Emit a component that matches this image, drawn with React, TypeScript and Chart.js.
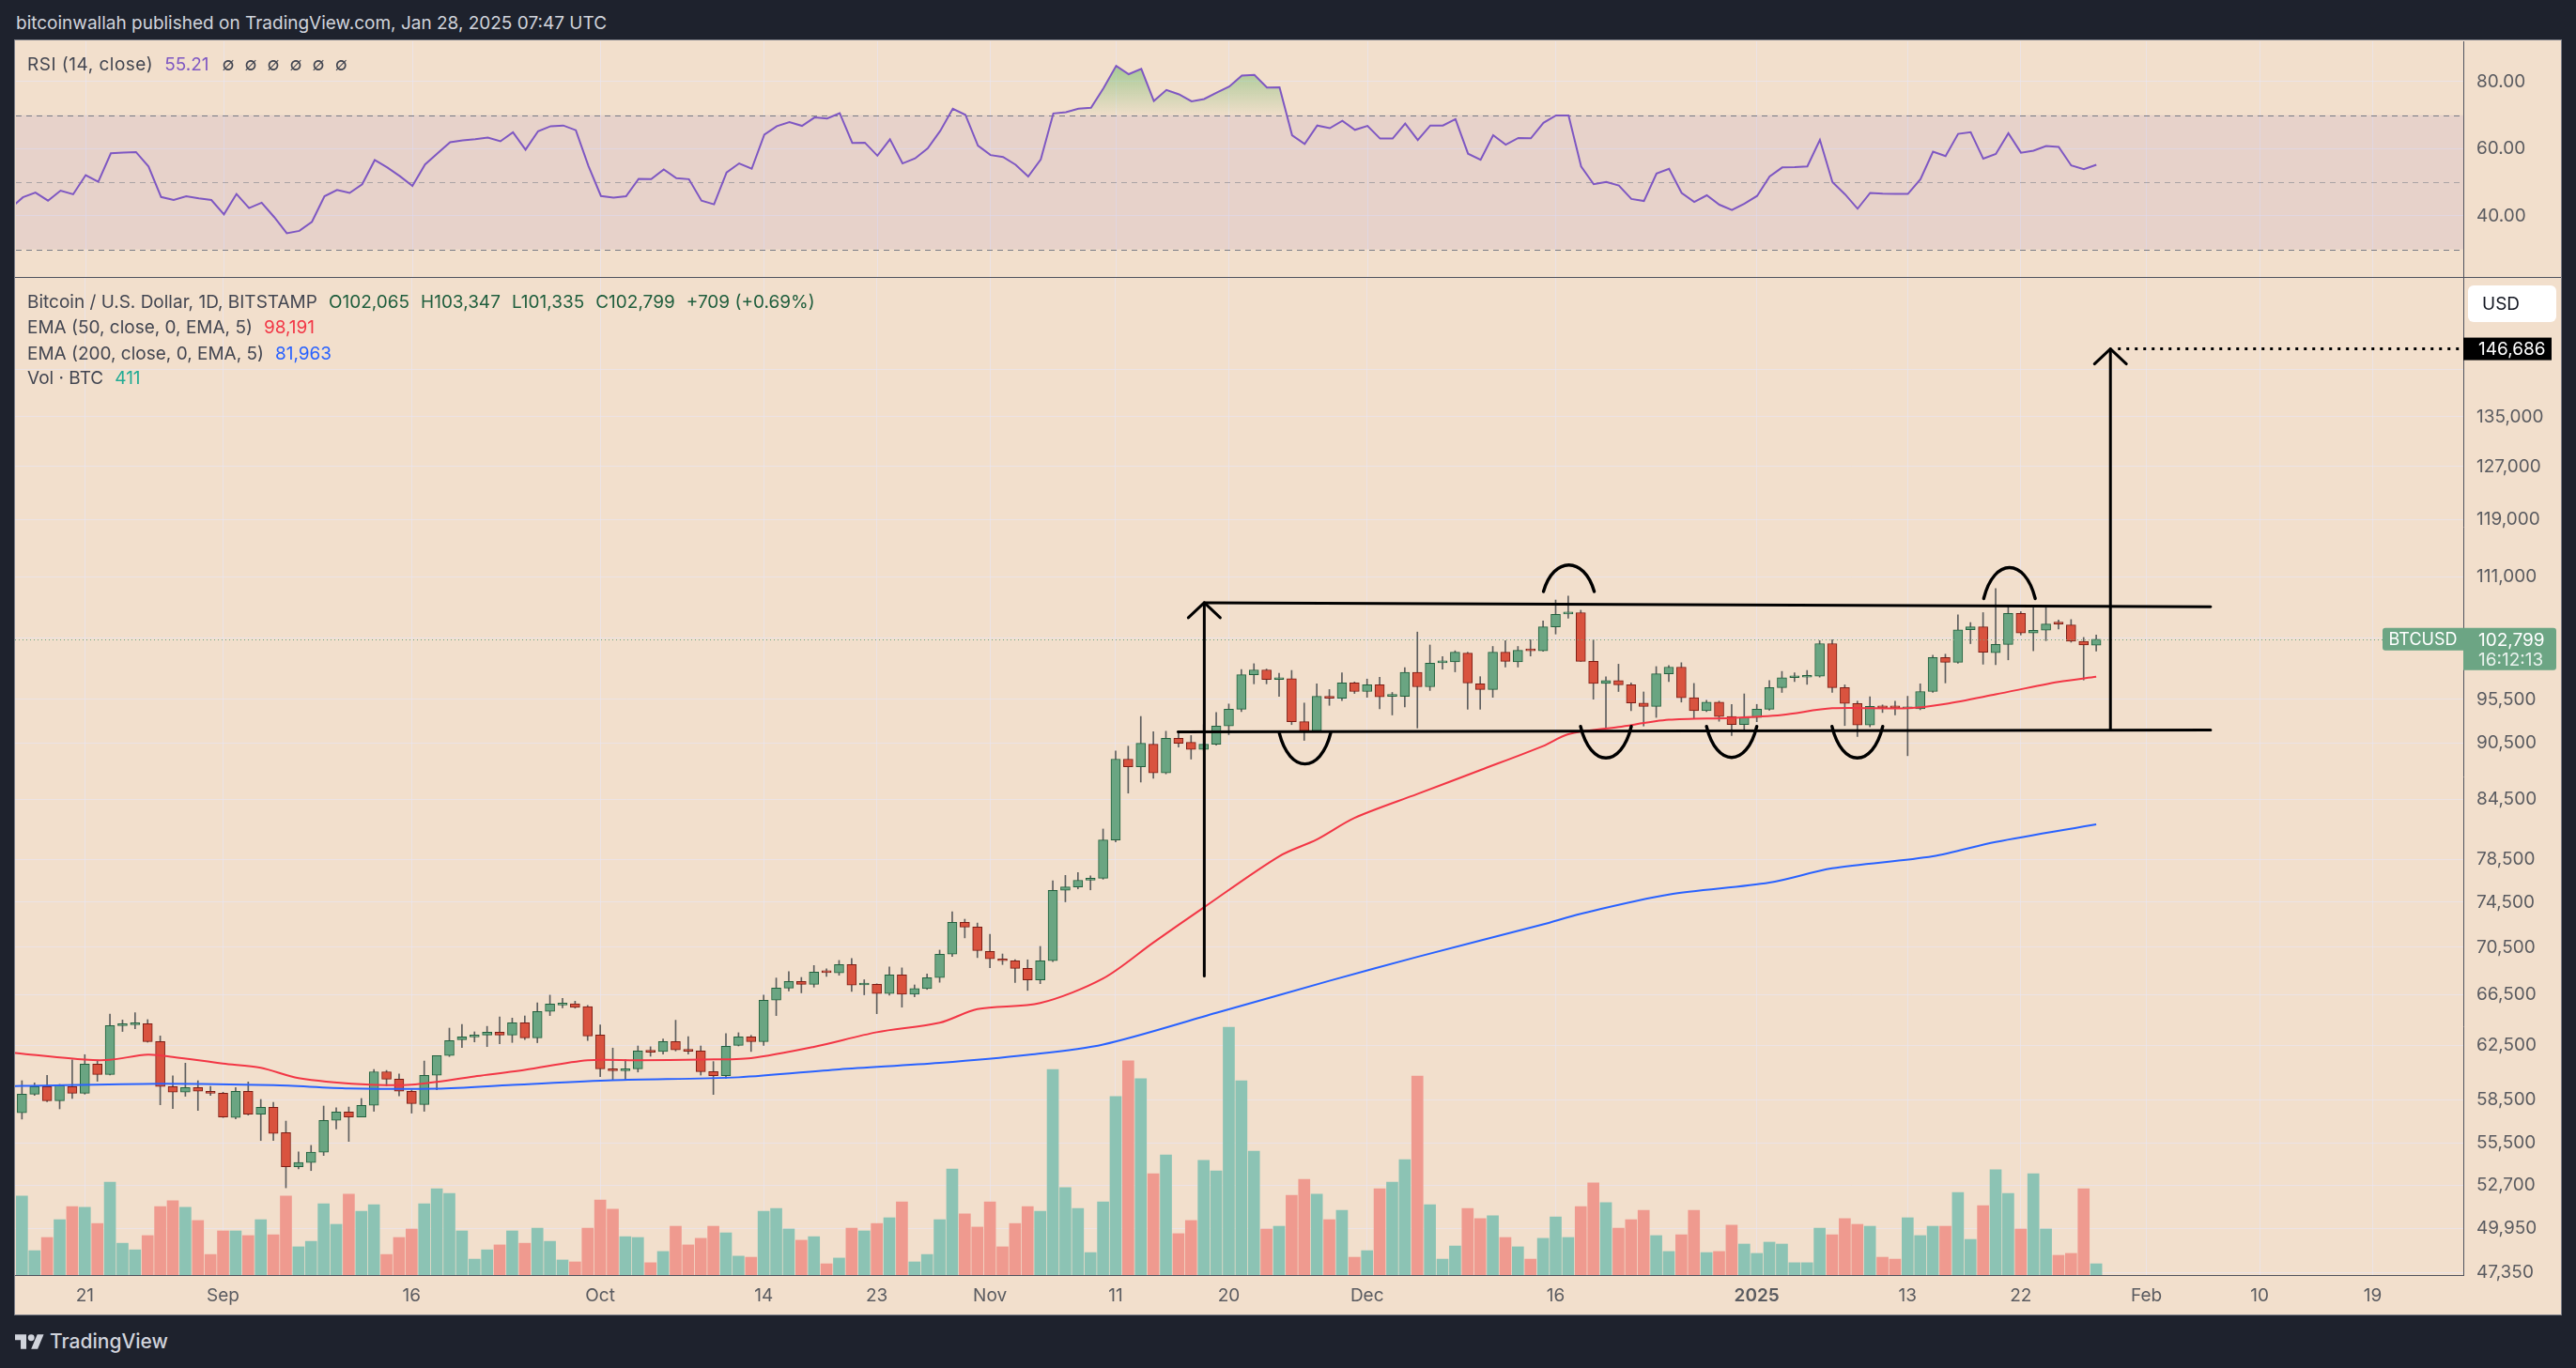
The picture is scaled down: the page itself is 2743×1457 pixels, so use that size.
import React, { useEffect, useRef } from 'react';
import { Chart, registerables } from 'chart.js';

Chart.register(...registerables);

const FONT = 'Inter, "Noto Sans", "DejaVu Sans", sans-serif';

// ---- Data (day index = days since 2024-09-01) ----
const firstCandleDay = -16; // 2024-08-16

const candleOpen = [
  57570, 58900, 59450, 58430, 59450, 58970, 61110, 60340, 64060, 64130,
  64200, 62820, 59450, 59040, 59380, 59110, 58970, 57240, 59110, 57480,
  57960, 56190, 53890, 54170, 54860, 57040, 57630, 57280, 58100, 60540,
  59990, 59110, 58160, 60280, 61750, 62960, 63180, 63320, 63550, 63320,
  64280, 63110, 65180, 65700, 65800, 65560, 63320, 60760, 60620, 60760,
  62060, 62060, 62820, 62180, 62100, 60550, 60250, 62530, 63180, 62820,
  66080, 67070, 67620, 67380, 68400, 68320, 69030, 67330, 67380, 66620,
  68160, 66570, 67030, 67930, 69910, 72690, 72270, 70150, 69450, 69350,
  68710, 67740, 69350, 75600, 75910, 76540, 76720, 80400, 88770, 87940,
  90400, 87280, 91050, 90620, 89820, 90400, 92440, 94360, 98430, 99010,
  97850, 97970, 92930, 91900, 95870, 95640, 97450, 96430, 97220, 95870,
  95870, 98720, 96990, 99890, 100000, 101060, 97340, 96660, 101180, 100000,
  101480, 101360, 104370, 106040, 106210, 100050, 97390, 97730, 97220, 95080,
  94690, 98540, 99360, 95700, 94190, 95190, 93530, 92600, 93420, 94360,
  96880, 98080, 98140, 98260, 102250, 96880, 95030, 92550, 94690, 94640,
  94420, 94420, 96430, 100530, 99950, 104000, 104370, 101120, 102140, 106100,
  103580, 103940, 104860, 104620, 102550, 102065,
];
const candleHigh = [
  59880, 59720, 60280, 59610, 61430, 61820, 61340, 64970, 64500, 65070,
  64530, 63250, 60230, 61180, 59880, 59470, 59040, 59380, 59790, 58520,
  58320, 56990, 54880, 55320, 58050, 57920, 57980, 58590, 60710, 60640,
  60370, 59200, 61340, 61750, 63860, 64150, 63570, 64000, 64750, 64650,
  64820, 65870, 66490, 66230, 66000, 65660, 64120, 62320, 61460, 62480,
  62420, 63010, 64480, 63200, 62480, 61300, 63430, 63500, 63300, 66490,
  67900, 68430, 67950, 68950, 68670, 69380, 69540, 67760, 67420, 68820,
  68750, 67330, 68240, 70260, 73640, 72970, 72630, 71640, 69930, 69450,
  69430, 70580, 76490, 76990, 77260, 76950, 81490, 89660, 90190, 93530,
  91790, 91850, 91790, 91370, 92600, 93980, 94970, 99070, 99770, 99120,
  98600, 98950, 95080, 97340, 96660, 98660, 97560, 97910, 98140, 96320,
  99300, 103710, 102080, 100650, 101360, 101180, 98200, 101900, 102620, 101900,
  102740, 105130, 107860, 108370, 106520, 102730, 98190, 99710, 97450, 96380,
  99420, 99540, 99890, 97390, 95410, 95300, 94900, 96150, 94920, 97730,
  98830, 98660, 98950, 102620, 102740, 97220, 95300, 95810, 94860, 95300,
  95870, 97340, 100820, 100940, 105920, 104930, 106210, 109390, 107140, 106340,
  106960, 107140, 105250, 105310, 103030, 103347,
];
const candleLow = [
  57130, 58810, 58360, 57850, 58590, 58900, 59840, 60300, 63600, 63810,
  62770, 58140, 57870, 58750, 57740, 58810, 57240, 57150, 57410, 55650,
  55650, 52520, 53750, 53640, 54640, 56450, 55590, 57280, 57680, 59500,
  58770, 57550, 57680, 59220, 61680, 62360, 62790, 62430, 62650, 62750,
  62970, 62730, 64850, 65470, 65440, 62900, 60180, 59950, 59950, 60520,
  61700, 61870, 62100, 61870, 60290, 58880, 60050, 62480, 62060, 62530,
  64850, 66830, 66680, 67150, 68040, 68130, 66790, 66520, 65000, 66490,
  65520, 66360, 66960, 67550, 69720, 71320, 69620, 68760, 69030, 67520,
  66880, 67430, 69270, 74540, 75730, 75640, 76630, 80210, 85150, 86310,
  86720, 87180, 90090, 88770, 89660, 90300, 91470, 94080, 97340, 97340,
  95870, 92600, 90830, 91790, 94810, 95360, 96200, 95750, 94420, 93700,
  94640, 92220, 96550, 99120, 98780, 94360, 94360, 95750, 99360, 99360,
  100710, 101300, 103460, 105480, 100050, 95530, 92220, 96430, 94190, 92440,
  93420, 97620, 95190, 93310, 94080, 92980, 91370, 92050, 92930, 94250,
  96320, 97620, 97280, 98140, 96320, 92490, 91260, 92330, 93980, 93700,
  89140, 94300, 96320, 97450, 99830, 102250, 99710, 99660, 100240, 103340,
  101360, 102620, 104100, 102430, 97800, 101335,
];
const candleClose = [
  58900, 59450, 58430, 59520, 58970, 61110, 60340, 64060, 64130, 64280,
  62820, 59450, 59040, 59380, 59110, 58970, 57280, 59110, 57480, 57960,
  56130, 53890, 54170, 54860, 57040, 57630, 57280, 58100, 60540, 59990,
  59110, 58230, 60280, 61750, 62890, 63180, 63320, 63550, 63320, 64280,
  63110, 65180, 65770, 65800, 65500, 63250, 60760, 60620, 60760, 62100,
  62010, 62820, 62180, 62080, 60550, 60250, 62460, 63180, 62820, 66080,
  67070, 67620, 67380, 68400, 68350, 69030, 67310, 67380, 66620, 68160,
  66570, 67030, 67930, 69910, 72690, 72270, 70230, 69510, 69350, 68710,
  67740, 69350, 75600, 75910, 76540, 76720, 80400, 88770, 87940, 90510,
  87280, 91050, 90510, 89820, 90400, 92440, 94360, 98430, 99010, 97850,
  97970, 92930, 91900, 95870, 95640, 97450, 96430, 97220, 95810, 95980,
  98720, 96990, 99830, 100000, 101180, 97450, 96660, 101180, 100060, 101420,
  101360, 104370, 105980, 106160, 100050, 97390, 97730, 97220, 95080, 94690,
  98540, 99360, 95700, 94190, 95190, 93530, 92600, 93420, 94360, 96880,
  98080, 98200, 98260, 102250, 96880, 95030, 92550, 94690, 94530, 94530,
  94530, 96430, 100530, 99950, 104000, 104370, 101180, 102140, 106100, 103580,
  103940, 104740, 104740, 102550, 102080, 102799,
];
const volumeBtc = [
  2880, 890, 1370, 2020, 2500, 2470, 1880, 3390, 1160, 920,
  1440, 2500, 2710, 2470, 1990, 750, 1610, 1610, 1440, 2020,
  1470, 2880, 1030, 1230, 2600, 1850, 2950, 2330, 2570, 750,
  1370, 1680, 2600, 3150, 2980, 1610, 580, 920, 1100, 1610,
  1160, 1710, 1230, 550, 480, 1710, 2740, 2400, 1400, 1370,
  450, 860, 1780, 1100, 1340, 1780, 1540, 690, 650, 2330,
  2430, 1680, 1270, 1400, 410, 620, 1710, 1610, 1880, 2090,
  2670, 480, 750, 2020, 3870, 2230, 1750, 2670, 1030, 1880,
  2500, 2330, 7500, 3190, 2430, 820, 2670, 6510, 7810, 7160,
  3700, 4380, 1510, 1990, 4180, 3800, 9040, 7090, 4520, 1680,
  1780, 2910, 3490, 2950, 2020, 2360, 650, 890, 3150, 3390,
  4210, 7260, 2570, 580, 1060, 2430, 2060, 2160, 1370, 1030,
  580, 1340, 2120, 1370, 2500, 3360, 2640, 1710, 2020, 2360,
  1440, 860, 1470, 2360, 820, 860, 1820, 1130, 790, 1200,
  1130, 450, 450, 1710, 1470, 2060, 1850, 1780, 650, 580,
  2090, 1440, 1780, 1780, 3010, 1300, 2530, 3840, 2980, 1680,
  3700, 1680, 720, 790, 3150, 411,
];

const rsiFirstDay = -17;
const rsiValues = [
  42.2, 45.5, 46.9, 44.5, 47.5, 46.4, 52.1, 50.1, 58.6, 58.8, 59.0, 54.7, 45.6, 44.7, 45.8, 45.2, 44.7,
  40.4, 46.5, 42.3, 43.9, 39.6, 34.8, 35.5, 38.2, 45.8, 47.7,
  46.8, 49.4, 56.6, 54.4, 51.8, 48.9, 55.3, 58.6, 61.9, 62.5,
  62.8, 63.3, 62.2, 64.9, 59.7, 65.2, 66.7, 66.9, 65.5, 54.9,
  45.9, 45.4, 45.8, 51.0, 50.9, 53.8, 51.2, 50.9, 44.5, 43.4,
  52.9, 55.6, 54.0, 64.2, 66.7, 67.9, 66.8, 69.3, 69.0, 70.6,
  61.7, 61.8, 57.9, 62.8, 55.6, 57.1, 60.1, 65.3, 71.9, 70.1,
  60.9, 58.1, 57.5, 55.2, 51.7, 56.8, 70.5, 70.9, 71.9, 72.2,
  78.1, 84.7, 82.2, 83.8, 74.2, 77.5, 76.2, 74.1, 74.8, 76.7,
  78.5, 81.8, 82.0, 78.2, 78.3, 64.0, 61.4, 66.9, 66.1, 68.3,
  65.6, 66.8, 63.0, 63.0, 67.5, 62.6, 66.9, 66.9, 68.8, 58.5,
  56.7, 64.0, 61.2, 63.2, 63.1, 67.7, 69.9, 69.9, 54.7, 49.4,
  50.1, 49.0, 45.0, 44.4, 52.6, 54.0, 46.8, 44.1, 46.1, 43.3,
  41.7, 43.6, 45.9, 51.7, 54.4, 54.5, 54.7, 62.6, 50.0, 46.4,
  42.1, 46.8, 46.6, 46.5, 46.5, 50.9, 59.1, 57.8, 64.4, 64.9,
  57.0, 58.4, 64.6, 58.8, 59.4, 60.8, 60.5, 55.0, 53.9, 55.21,
];

const ema50Days = [-17, -16, -11, -9, -6, -4, 0, 3, 6, 11, 15, 20, 24, 29, 33, 38, 42, 47, 52, 57, 60, 65, 70, 74, 78, 84, 87, 90, 95, 100, 105, 107, 111, 115, 120, 124, 128, 134, 137, 141, 146, 149];
const ema50Values = [61980, 61900, 61450, 61430, 61820, 61650, 61150, 60830, 60070, 59620, 59590, 60190, 60680, 61390, 61390, 61450, 61560, 62410, 63540, 64280, 65360, 65850, 67860, 70910, 74020, 78810, 80450, 82600, 85060, 87580, 90200, 91520, 92330, 93150, 93360, 93700, 94470, 94470, 94970, 96090, 97570, 98191];
const ema200Days = [-17, -16, -5, 4, 10, 17, 23, 31, 41, 49, 57, 64, 70, 79, 88, 95, 105, 108, 115, 123, 128, 136, 141, 149];
const ema200Values = [59480, 59500, 59660, 59550, 59320, 59300, 59570, 59920, 60130, 60720, 61200, 61800, 62590, 65060, 67670, 69680, 72510, 73460, 75200, 76310, 77660, 78810, 80210, 81963];

const dateTickDays = [-11, 0, 15, 30, 43, 52, 61, 71, 80, 91, 106, 122, 134, 143, 153, 162, 171];
const dateTickLabels = ['21', 'Sep', '16', 'Oct', '14', '23', 'Nov', '11', '20', 'Dec', '16', '2025', '13', '22', 'Feb', '10', '19'];
const boldTickDays = [122];

const priceTicks = [47350, 49950, 52700, 55500, 58500, 62500, 66500, 70500, 74500, 78500, 84500, 90500, 95500, 103000, 111000, 119000, 127000, 135000, 143000];
const hiddenPriceTicks = [103000, 143000];
const rsiTicks = [40, 60, 80];

// drawings (day, price)
const channelTop = [[78.05, 107500], [158.1, 106980]];
const channelBottom = [[75.96, 91790], [158.1, 92000]];
const measureArrows = [
  { day: 78.05, from: 68060, to: 107500 },
  { day: 150.13, from: 92000, to: 146686 },
];
const targetPrice = 146686;
const cups = [
  { day: 86.06, half: 2.05, rim: 91680, bottom: 88250 },
  { day: 110.0, half: 2.02, rim: 92400, bottom: 88900 },
  { day: 120.0, half: 2.0, rim: 92400, bottom: 88950 },
  { day: 130.0, half: 2.02, rim: 92400, bottom: 88900 },
];
const caps = [
  { day: 107.05, half: 2.02, rim: 108980, top: 112590 },
  { day: 142.1, half: 2.05, rim: 108050, top: 112230 },
];

const lastClose = 102799;
const countdown = '16:12:13';

// ---- styling ----
const X_MIN = -16.55;
const X_MAX = 178.2;
const PANEL = '#f2dfcc';
const DARK = '#1e222d';
const GRID = 'rgba(232,230,245,0.6)';
const AXIS_LINE = '#50535e';
const TICK_COLOR = '#5a5b60';
const UP = '#6aa582';
const UP_BORDER = '#22603d';
const DOWN = '#d9533f';
const DOWN_BORDER = '#7c1d14';
const WICK = '#5e5e5e';
const VOL_UP = '#8cc3b4';
const VOL_DOWN = '#ef9a8f';
const LABEL_GREEN = '#6ca584';

const fmt = (v: number) => v.toLocaleString('en-US');

export default function App() {
  const rsiRef = useRef<HTMLCanvasElement | null>(null);
  const priceRef = useRef<HTMLCanvasElement | null>(null);

  useEffect(() => {
    document.body.style.margin = '0';
    document.body.style.background = DARK;

    const days = candleOpen.map((_, i) => firstCandleDay + i);
    const isUp = candleOpen.map((o, i) => candleClose[i] >= o);

    const xScaleBase = (showLabels: boolean) => ({
      type: 'linear' as const,
      min: X_MIN,
      max: X_MAX,
      offset: false,
      afterBuildTicks: (scale: any) => {
        scale.ticks = dateTickDays.map((v) => ({ value: v }));
      },
      afterFit: (scale: any) => {
        scale.height = showLabels ? 42 : 0;
        scale.paddingLeft = 0;
        scale.paddingRight = 0;
      },
      grid: { color: GRID, drawTicks: false, offset: false, lineWidth: 1 },
      border: showLabels ? { display: true, color: AXIS_LINE, width: 1 } : { display: false },
      ticks: {
        display: showLabels,
        autoSkip: false,
        maxRotation: 0,
        padding: 11,
        color: TICK_COLOR,
        font: (c: any) => ({
          family: FONT,
          size: 19,
          weight: c.tick && boldTickDays.includes(c.tick.value) ? '600' : '400',
        }),
        callback: (v: any) => {
          const idx = dateTickDays.indexOf(Number(v));
          return idx >= 0 ? dateTickLabels[idx] : '';
        },
      },
    });

    // ---------- RSI chart ----------
    const rsiBand = {
      id: 'rsiBand',
      beforeDatasetsDraw(chart: any) {
        const { ctx, chartArea: ca, scales } = chart;
        const y = scales.y;
        ctx.save();
        const y70 = y.getPixelForValue(70);
        const y30 = y.getPixelForValue(30);
        ctx.fillStyle = 'rgba(126,87,194,0.09)';
        ctx.fillRect(ca.left, y70, ca.right - ca.left, y30 - y70);
        ctx.lineWidth = 1;
        ctx.setLineDash([6, 5]);
        [70, 50, 30].forEach((v) => {
          ctx.strokeStyle = v === 50 ? 'rgba(120,123,134,0.55)' : 'rgba(120,123,134,1)';
          const yy = Math.round(y.getPixelForValue(v)) + 0.5;
          ctx.beginPath();
          ctx.moveTo(ca.left, yy);
          ctx.lineTo(ca.right, yy);
          ctx.stroke();
        });
        ctx.restore();
      },
    };

    const rsiChart = new Chart(rsiRef.current as HTMLCanvasElement, {
      type: 'line',
      data: {
        datasets: [
          {
            data: rsiValues.map((v, i) => ({ x: rsiFirstDay + i, y: v })),
            borderColor: '#7e57c2',
            borderWidth: 2,
            pointRadius: 0,
            tension: 0,
            fill: { target: { value: 70 }, above: 'rgba(76,175,80,0.3)', below: 'rgba(0,0,0,0)' },
          } as any,
        ],
      },
      options: {
        animation: false,
        responsive: false,
        devicePixelRatio: 1,
        events: [],
        layout: { padding: 0 },
        plugins: { legend: { display: false }, tooltip: { enabled: false } },
        scales: {
          x: xScaleBase(false) as any,
          y: {
            type: 'linear',
            position: 'right',
            min: 21.75,
            max: 92,
            afterBuildTicks: (scale: any) => {
              scale.ticks = rsiTicks.map((v) => ({ value: v }));
            },
            afterFit: (scale: any) => {
              scale.width = 104;
              scale.paddingTop = 0;
              scale.paddingBottom = 0;
            },
            grid: { color: GRID, drawTicks: false },
            border: { display: true, color: AXIS_LINE, width: 1 },
            ticks: {
              padding: 14,
              color: TICK_COLOR,
              font: { family: FONT, size: 19 },
              callback: (v: any) => Number(v).toFixed(2),
            },
          },
        },
      },
      plugins: [rsiBand],
    });
    {
      const ys = rsiChart.scales.y;
      const g = rsiChart.ctx.createLinearGradient(0, ys.getPixelForValue(86), 0, ys.getPixelForValue(70));
      g.addColorStop(0, 'rgba(76,175,80,0.5)');
      g.addColorStop(1, 'rgba(76,175,80,0.02)');
      (rsiChart.data.datasets[0] as any).fill = { target: { value: 70 }, above: g, below: 'rgba(0,0,0,0)' };
      rsiChart.update();
    }

    // ---------- Price chart ----------
    const drawings = {
      id: 'drawings',
      afterDatasetsDraw(chart: any) {
        const { ctx, chartArea: ca, scales } = chart;
        const X = (d: number) => scales.x.getPixelForValue(d);
        const Y = (p: number) => scales.y.getPixelForValue(p);
        ctx.save();
        ctx.beginPath();
        ctx.rect(ca.left, ca.top, ca.right - ca.left, ca.bottom - ca.top);
        ctx.clip();

        // last price dotted line
        ctx.strokeStyle = LABEL_GREEN;
        ctx.lineWidth = 1;
        ctx.setLineDash([1, 3]);
        const yl = Math.round(Y(lastClose)) + 0.5;
        ctx.beginPath();
        ctx.moveTo(ca.left, yl);
        ctx.lineTo(ca.right, yl);
        ctx.stroke();

        ctx.setLineDash([]);
        ctx.strokeStyle = '#000';
        ctx.lineWidth = 3;
        ctx.lineCap = 'round';
        ctx.lineJoin = 'round';

        [channelTop, channelBottom].forEach((seg) => {
          ctx.beginPath();
          ctx.moveTo(X(seg[0][0]), Y(seg[0][1]));
          ctx.lineTo(X(seg[1][0]), Y(seg[1][1]));
          ctx.stroke();
        });

        measureArrows.forEach((a) => {
          const x = X(a.day);
          const yTop = Y(a.to);
          ctx.beginPath();
          ctx.moveTo(x, Y(a.from));
          ctx.lineTo(x, yTop);
          ctx.stroke();
          ctx.beginPath();
          ctx.moveTo(x - 17, yTop + 16);
          ctx.lineTo(x, yTop);
          ctx.lineTo(x + 17, yTop + 16);
          ctx.stroke();
        });

        // hand-drawn arcs: cubic curves between two rim points
        ctx.lineWidth = 3.4;
        const arc = (day: number, half: number, rimP: number, tipP: number) => {
          const x0 = X(day - half);
          const x1 = X(day + half);
          const w = x1 - x0;
          const yr = Y(rimP);
          const yc = yr + (Y(tipP) - yr) / 0.75;
          ctx.beginPath();
          ctx.moveTo(x0, yr);
          ctx.bezierCurveTo(x0 + 0.2 * w, yc, x1 - 0.2 * w, yc, x1, yr);
          ctx.stroke();
        };
        cups.forEach((c) => arc(c.day, c.half, c.rim, c.bottom));
        caps.forEach((c) => arc(c.day, c.half, c.rim, c.top));

        // target dotted line
        ctx.lineWidth = 3;
        ctx.lineCap = 'butt';
        ctx.setLineDash([3, 6]);
        const yt = Y(targetPrice);
        ctx.beginPath();
        ctx.moveTo(X(measureArrows[1].day) + 8, yt);
        ctx.lineTo(ca.right, yt);
        ctx.stroke();
        ctx.restore();
      },
      afterDraw(chart: any) {
        const { ctx, chartArea: ca, scales } = chart;
        const Y = (p: number) => scales.y.getPixelForValue(p);
        const ax = ca.right;
        ctx.save();
        ctx.textBaseline = 'middle';
        ctx.font = `19px ${FONT}`;

        // USD button
        const ux = ax + 5, uy = ca.top + 8, uw = 94, uh = 39;
        ctx.fillStyle = '#ffffff';
        ctx.beginPath();
        (ctx as any).roundRect(ux, uy, uw, uh, 6);
        ctx.fill();
        ctx.fillStyle = '#131722';
        ctx.textAlign = 'left';
        ctx.fillText('USD', ux + 15, uy + uh / 2 + 1);

        // target label
        const yt = Y(targetPrice);
        ctx.fillStyle = '#000000';
        ctx.fillRect(ax, yt - 12, 94, 24);
        ctx.fillStyle = '#ffffff';
        ctx.fillText(fmt(targetPrice), ax + 16, yt + 1);

        // last price labels
        const yl = Y(lastClose);
        ctx.fillStyle = LABEL_GREEN;
        ctx.beginPath();
        (ctx as any).roundRect(ax - 86, yl - 12, 86, 24, [3, 0, 0, 3]);
        ctx.fill();
        ctx.beginPath();
        (ctx as any).roundRect(ax, yl - 12, 99, 45, [0, 3, 3, 0]);
        ctx.fill();
        ctx.fillStyle = '#ffffff';
        ctx.textAlign = 'center';
        ctx.font = `18px ${FONT}`;
        ctx.fillText('BTCUSD', ax - 43, yl + 1);
        ctx.textAlign = 'left';
        ctx.font = `19px ${FONT}`;
        ctx.fillText(fmt(lastClose), ax + 16, yl + 1);
        ctx.fillStyle = 'rgba(255,255,255,0.85)';
        ctx.fillText(countdown, ax + 16, yl + 22);
        ctx.restore();
      },
    };

    const priceChart = new Chart(priceRef.current as HTMLCanvasElement, {
      type: 'bar',
      data: {
        datasets: [
          {
            type: 'line',
            data: ema50Days.map((d, i) => ({ x: d, y: ema50Values[i] })),
            borderColor: '#f23645',
            borderWidth: 2,
            pointRadius: 0,
            tension: 0.3,
            yAxisID: 'y',
            order: 1,
          } as any,
          {
            type: 'line',
            data: ema200Days.map((d, i) => ({ x: d, y: ema200Values[i] })),
            borderColor: '#2962ff',
            borderWidth: 2,
            pointRadius: 0,
            tension: 0.3,
            yAxisID: 'y',
            order: 1,
          } as any,
          {
            type: 'bar',
            data: days.map((d, i) => ({ x: d, y: [candleLow[i], candleHigh[i]] })),
            backgroundColor: WICK,
            barThickness: 1,
            grouped: false,
            yAxisID: 'y',
            order: 3,
          } as any,
          {
            type: 'bar',
            data: days.map((d, i) => ({ x: d, y: [candleOpen[i], candleClose[i]] })),
            backgroundColor: isUp.map((u) => (u ? UP : DOWN)),
            borderColor: isUp.map((u) => (u ? UP_BORDER : DOWN_BORDER)),
            borderWidth: 1,
            borderSkipped: false,
            minBarLength: 2,
            barThickness: 10,
            grouped: false,
            yAxisID: 'y',
            order: 2,
          } as any,
          {
            type: 'bar',
            data: days.map((d, i) => ({ x: d, y: volumeBtc[i] })),
            backgroundColor: isUp.map((u) => (u ? VOL_UP : VOL_DOWN)),
            barThickness: 12,
            grouped: false,
            yAxisID: 'vol',
            order: 5,
          } as any,
        ],
      },
      options: {
        animation: false,
        responsive: false,
        devicePixelRatio: 1,
        events: [],
        layout: { padding: 0 },
        plugins: { legend: { display: false }, tooltip: { enabled: false } },
        scales: {
          x: xScaleBase(true) as any,
          y: {
            type: 'logarithmic',
            position: 'right',
            min: 47200,
            max: 160000,
            afterBuildTicks: (scale: any) => {
              scale.ticks = priceTicks.map((v) => ({ value: v }));
            },
            afterFit: (scale: any) => {
              scale.width = 104;
              scale.paddingTop = 0;
              scale.paddingBottom = 0;
            },
            grid: { color: GRID, drawTicks: false },
            border: { display: true, color: AXIS_LINE, width: 1 },
            ticks: {
              autoSkip: false,
              padding: 14,
              color: TICK_COLOR,
              font: { family: FONT, size: 19 },
              callback: (v: any) => (hiddenPriceTicks.includes(Number(v)) ? '' : fmt(Number(v))),
            },
          } as any,
          vol: {
            type: 'linear',
            display: false,
            min: 0,
            max: 36370,
          },
        },
      },
      plugins: [drawings],
    });

    return () => {
      rsiChart.destroy();
      priceChart.destroy();
    };
  }, []);

  const textStyle = (left: number, top: number, color: string, extra: any = {}) => ({
    position: 'absolute' as const,
    left,
    top: top - 12,
    height: 24,
    lineHeight: '24px',
    fontSize: 19,
    color,
    whiteSpace: 'nowrap' as const,
    ...extra,
  });
  const legendRow = (top: number, children: React.ReactNode) => (
    <div style={textStyle(29, top, '#434651')}>{children}</div>
  );
  const gap = { marginLeft: 12 };
  const ohlcColor = '#1f5e3d';
  const nullMarks = [0, 1, 2, 3, 4, 5];

  return (
    <div
      style={{
        position: 'relative',
        width: 2743,
        height: 1457,
        background: DARK,
        fontFamily: FONT,
        overflow: 'hidden',
      }}
    >
      <div style={textStyle(17, 25, '#d1d4dc')}>
        bitcoinwallah published on TradingView.com, Jan 28, 2025 07:47 UTC
      </div>

      <div
        style={{
          position: 'absolute',
          left: 15,
          top: 42,
          width: 2711,
          height: 1357,
          background: PANEL,
          border: '1px solid #7d7f88',
        }}
      />
      <canvas
        ref={rsiRef}
        width={2711}
        height={253}
        style={{ position: 'absolute', left: 16, top: 43, width: 2711, height: 253 }}
      />
      <div style={{ position: 'absolute', left: 16, top: 295, width: 2711, height: 1, background: AXIS_LINE }} />
      <canvas
        ref={priceRef}
        width={2711}
        height={1104}
        style={{ position: 'absolute', left: 16, top: 296, width: 2711, height: 1104 }}
      />

      {legendRow(
        69,
        <>
          <span style={{ letterSpacing: 0.5 }}>RSI (14, close)</span>
          <span style={{ ...gap, color: '#7e57c2' }}>55.21</span>
          {nullMarks.map((k) => (
            <span key={k} style={{ marginLeft: k === 0 ? 14 : 11 }}>
              ∅
            </span>
          ))}
        </>
      )}

      {legendRow(
        322,
        <>
          <span>Bitcoin / U.S. Dollar, 1D, BITSTAMP</span>
          <span style={{ ...gap, color: ohlcColor }}>O102,065</span>
          <span style={{ ...gap, color: ohlcColor }}>H103,347</span>
          <span style={{ ...gap, color: ohlcColor }}>L101,335</span>
          <span style={{ ...gap, color: ohlcColor }}>C102,799</span>
          <span style={{ ...gap, color: ohlcColor }}>+709 (+0.69%)</span>
        </>
      )}
      {legendRow(
        349,
        <>
          <span>EMA (50, close, 0, EMA, 5)</span>
          <span style={{ ...gap, color: '#f23645' }}>98,191</span>
        </>
      )}
      {legendRow(
        377,
        <>
          <span>EMA (200, close, 0, EMA, 5)</span>
          <span style={{ ...gap, color: '#2962ff' }}>81,963</span>
        </>
      )}
      {legendRow(
        403,
        <>
          <span>Vol · BTC</span>
          <span style={{ ...gap, color: '#22ab94' }}>411</span>
        </>
      )}

      <svg
        width={31}
        height={16}
        viewBox="0 4 36 18"
        style={{ position: 'absolute', left: 16, top: 1421 }}
      >
        <path d="M14 22H7V11H0V4h14v18z" fill="#d1d4dc" />
        <circle cx="20" cy="8" r="4" fill="#d1d4dc" />
        <path d="M28 22h-8l7.5-18h8L28 22z" fill="#d1d4dc" />
      </svg>
      <div
        style={{
          position: 'absolute',
          left: 53,
          top: 1416,
          height: 26,
          lineHeight: '26px',
          fontSize: 21,
          fontWeight: 500,
          color: '#d1d4dc',
        }}
      >
        TradingView
      </div>
    </div>
  );
}
